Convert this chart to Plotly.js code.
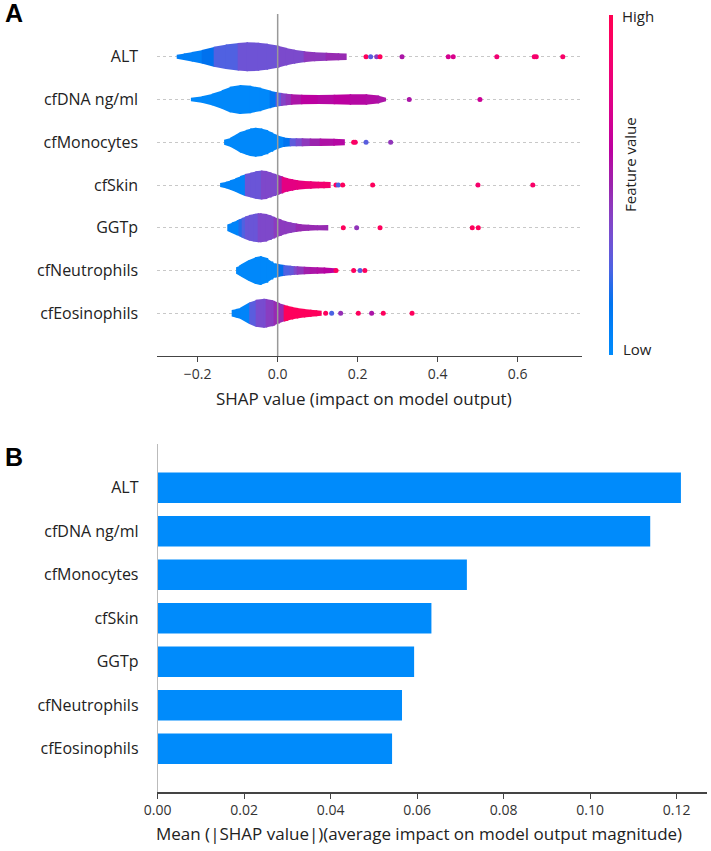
<!DOCTYPE html>
<html><head><meta charset="utf-8">
<script src="https://cdn.plot.ly/plotly-3.0.1.min.js"></script>
<style>html,body{margin:0;padding:0;background:#fff}#chart{width:711px;height:851px}</style>
</head><body><div id="chart"></div>
<script>
// ---------- DATA ----------
const features = ['ALT','cfDNA ng/ml','cfMonocytes','cfSkin','GGTp','cfNeutrophils','cfEosinophils'];
const meanAbsShap = [0.1210, 0.1139, 0.0715, 0.0633, 0.0593, 0.0565, 0.0542];

// violin profiles: SHAP positions, relative half-width, mean feature value per segment
const altX = [-0.2525,-0.235,-0.215,-0.19,-0.16,-0.13,-0.10,-0.078,-0.05,-0.028,0.0,0.02,0.04,0.065,0.09,0.12,0.15,0.1725];
const altW = [0.13,0.22,0.33,0.46,0.68,0.85,0.95,1.0,0.97,0.89,0.76,0.6,0.49,0.37,0.31,0.27,0.24,0.22];
const altC = [0.08,0.08,0.08,0.17,0.26,0.26,0.33,0.33,0.33,0.33,0.37,0.37,0.37,0.44,0.44,0.48,0.48];

const dnaX = [-0.217,-0.19,-0.165,-0.14,-0.12,-0.095,-0.07,-0.045,-0.02,-0.005,0.008,0.02,0.033,0.058,0.1,0.14,0.18,0.22,0.25,0.271];
const dnaW = [0.12,0.22,0.4,0.64,0.87,1.0,0.95,0.8,0.6,0.5,0.44,0.4,0.36,0.32,0.31,0.33,0.36,0.36,0.27,0.12];
const dnaC = [0.02,0.02,0.02,0.02,0.02,0.02,0.02,0.02,0.15,0.28,0.4,0.45,0.55,0.6,0.58,0.6,0.58,0.57,0.55];

const monoX = [-0.134,-0.119,-0.105,-0.094,-0.08,-0.069,-0.057,-0.042,-0.0275,-0.015,-0.0025,0.014,0.03,0.045,0.06,0.08,0.105,0.139,0.168];
const monoW = [0.17,0.31,0.52,0.71,0.85,0.95,1.0,0.95,0.82,0.66,0.49,0.33,0.28,0.27,0.27,0.26,0.25,0.24,0.21];
const monoC = [0.02,0.02,0.02,0.02,0.02,0.02,0.02,0.02,0.02,0.02,0.05,0.15,0.29,0.36,0.44,0.5,0.56,0.58];

const skinX = [-0.144,-0.13,-0.119,-0.106,-0.094,-0.082,-0.069,-0.056,-0.042,-0.03,-0.019,-0.008,0.0,0.01,0.0225,0.035,0.0475,0.065,0.081,0.1,0.114,0.1325];
const skinW = [0.13,0.22,0.33,0.47,0.62,0.75,0.85,0.94,1.0,0.96,0.86,0.76,0.69,0.58,0.47,0.39,0.33,0.28,0.25,0.23,0.22,0.2];
const skinC = [0.05,0.05,0.05,0.05,0.05,0.32,0.32,0.32,0.38,0.38,0.38,0.38,0.5,0.77,0.77,0.77,0.79,0.81,0.83,0.85,0.87];

const ggtX = [-0.126,-0.115,-0.1025,-0.098,-0.09,-0.082,-0.072,-0.061,-0.05,-0.044,-0.03,-0.019,-0.01,0.006,0.018,0.031,0.045,0.056,0.075,0.0975,0.1265];
const ggtW = [0.22,0.36,0.51,0.56,0.67,0.78,0.88,0.95,0.99,1.0,0.95,0.84,0.74,0.56,0.45,0.36,0.29,0.24,0.2,0.18,0.19];
const ggtC = [0.05,0.05,0.05,0.2,0.26,0.32,0.32,0.32,0.38,0.38,0.38,0.38,0.43,0.43,0.43,0.43,0.48,0.48,0.48,0.48];

const neuX = [-0.104,-0.097,-0.09,-0.0733,-0.057,-0.044,-0.0275,-0.015,-0.007,0.0,0.014,0.03,0.04,0.0475,0.065,0.08,0.0975,0.115,0.131,0.1458];
const neuW = [0.22,0.32,0.44,0.71,0.92,1.0,0.84,0.62,0.49,0.44,0.38,0.32,0.3,0.29,0.26,0.24,0.22,0.2,0.18,0.15];
const neuC = [0.02,0.02,0.02,0.02,0.02,0.02,0.02,0.02,0.02,0.18,0.26,0.3,0.38,0.44,0.52,0.55,0.57,0.59,0.6];

const eosX = [-0.115,-0.105,-0.094,-0.071,-0.055,-0.036,-0.03,-0.015,-0.01,0.0017,0.015,0.0225,0.035,0.0475,0.065,0.081,0.095,0.11];
const eosW = [0.22,0.3,0.38,0.74,0.93,1.0,0.98,0.89,0.84,0.71,0.56,0.51,0.43,0.36,0.29,0.24,0.21,0.18];
const eosC = [0.05,0.05,0.05,0.28,0.36,0.36,0.42,0.42,0.48,0.48,0.95,0.95,0.95,0.95,0.95,0.95,0.95];

// outlier points: SHAP value and feature value
const altDotX = [0.221,0.2325,0.2475,0.256,0.311,0.4266,0.439,0.548,0.6416,0.6466,0.713];
const altDotC = [0.95,0.28,0.42,0.95,0.55,0.7,0.72,0.85,0.88,0.88,0.9];
const dnaDotX = [0.329,0.5058];
const dnaDotC = [0.55,0.66];
const monoDotX = [0.19,0.194,0.221,0.2825];
const monoDotC = [0.95,0.9,0.28,0.45];
const skinDotX = [0.1458,0.1517,0.1625,0.2375,0.5008,0.638];
const skinDotC = [0.95,0.25,0.95,0.95,0.88,0.9];
const ggtDotX = [0.164,0.1975,0.256,0.4866,0.5016];
const ggtDotC = [0.95,0.45,0.95,0.95,0.95];
const neuDotX = [0.146,0.19,0.206,0.218];
const neuDotC = [0.95,0.95,0.27,0.95];
const eosDotX = [0.12,0.135,0.1575,0.2016,0.235,0.264,0.336];
const eosDotC = [0.95,0.25,0.47,0.95,0.55,0.95,0.95];

const xTicksTop = [-0.2,0.0,0.2,0.4,0.6];
const xTicksBottom = [0,0.02,0.04,0.06,0.08,0.10,0.12];

// ---------- SHAP red_blue colormap ----------
function lab2rgb(L,a,b){
  const fy=(L+16)/116, fx=fy+a/500, fz=fy-b/200;
  const finv=t=>t>0.206893?t*t*t:(t-16/116)/7.787;
  const X=0.95047*finv(fx), Y=finv(fy), Z=1.08883*finv(fz);
  let r=3.24048134*X-1.53715152*Y-0.49853633*Z;
  let g=-0.96925495*X+1.87599*Y+0.04155593*Z;
  let bb=0.05564664*X-0.20404134*Y+1.05731107*Z;
  const gam=c=>c>0.0031308?1.055*Math.pow(c,1/2.4)-0.055:12.92*c;
  return [r,g,bb].map(c=>Math.min(1,Math.max(0,gam(Math.max(0,c)))));
}
const N=100, cmap=[];
for(let i=0;i<N;i++){
  const t=i/(N-1);
  const l = i<N/2 ? 54+(40-54)*(i/(N/2-1)) : 40+(54-40)*((i-N/2)/(N/2-1));
  const c = 70+(90-70)*t;
  const h = 4.6588+((0.35470565+2*Math.PI)-4.6588)*t;
  cmap.push(lab2rgb(l,c*Math.cos(h),c*Math.sin(h)));
}
function shapColor(v){
  const p=Math.min(1,Math.max(0,v))*(N-1), i=Math.floor(p), f=p-i;
  const a=cmap[i], b=cmap[Math.min(N-1,i+1)];
  const rgb=a.map((x,k)=>Math.round(255*(x+(b[k]-x)*f)));
  return 'rgb('+rgb.join(',')+')';
}
const colorscale=[];
for(let i=0;i<=20;i++){colorscale.push([i/20,shapColor(i/20)]);}

// ---------- TRACES ----------
const profiles=[[altX,altW,altC],[dnaX,dnaW,dnaC],[monoX,monoW,monoC],[skinX,skinW,skinC],[ggtX,ggtW,ggtC],[neuX,neuW,neuC],[eosX,eosW,eosC]];
const dots=[[altDotX,altDotC],[dnaDotX,dnaDotC],[monoDotX,monoDotC],[skinDotX,skinDotC],[ggtDotX,ggtDotC],[neuDotX,neuDotC],[eosDotX,eosDotC]];
const H=0.34, OV=0.004;
const traces=[];
profiles.forEach((p,fi)=>{
  const row=features.length-1-fi;
  const [xs,ws,cs]=p;
  for(let i=0;i<xs.length-1;i++){
    const col=shapColor(cs[i]);
    const last = i===xs.length-2;
    const xr = last ? xs[i+1] : xs[i+1]+OV;
    traces.push({type:'scatter',mode:'lines',xaxis:'x',yaxis:'y',
      x:[xs[i],xs[i+1],xr,xr,xs[i+1],xs[i],xs[i]],
      y:[row+ws[i]*H,row+ws[i+1]*H,row+ws[i+1]*H,row-ws[i+1]*H,row-ws[i+1]*H,row-ws[i]*H,row+ws[i]*H],
      fill:'toself',fillcolor:col,line:{color:col,width:0},hoverinfo:'skip',showlegend:false});
  }
});
const dx=[],dy=[],dc=[];
dots.forEach((d,fi)=>{const row=features.length-1-fi; d[0].forEach((v,k)=>{dx.push(v);dy.push(row);dc.push(d[1][k]);});});
traces.push({type:'scatter',mode:'markers',xaxis:'x',yaxis:'y',x:dx,y:dy,
  marker:{size:5,color:dc,colorscale:colorscale,cmin:0,cmax:1,showscale:true,line:{width:0},
    colorbar:{thickness:4,thicknessmode:'pixels',len:340/851,lenmode:'fraction',
      x:609/711,xanchor:'left',xpad:0,y:1-14.7/851,yanchor:'top',ypad:0,
      outlinewidth:0,showticklabels:false,ticks:''}},
  showlegend:false,hoverinfo:'skip'});
traces.push({type:'bar',orientation:'h',xaxis:'x2',yaxis:'y2',
  x:meanAbsShap,y:features.map((f,i)=>features.length-1-i),width:0.7,
  marker:{color:'#008bfb',line:{width:0}},showlegend:false});

const font='"Open Sans", sans-serif';
const rows=features.map((f,i)=>features.length-1-i);
const layout={
  width:711,height:851,margin:{l:0,r:0,t:0,b:0},paper_bgcolor:'#fff',plot_bgcolor:'#fff',
  font:{family:font,color:'#333'},showlegend:false,
  xaxis:{domain:[157.3/711,582/711],range:[-0.301,0.761],anchor:'y',showline:true,linecolor:'#444',linewidth:1.2,
    ticks:'outside',ticklen:5,tickcolor:'#444',tickvals:xTicksTop,tickformat:'.1f',showgrid:false,zeroline:false,
    tickfont:{size:14,color:'#333'}},
  yaxis:{domain:[1-356/851,1-14/851],range:[-1,7],anchor:'x',tickvals:rows,ticktext:features,showgrid:true,griddash:'dot',
    gridcolor:'#c8c8c8',gridwidth:1,showline:false,zeroline:false,ticks:'outside',ticklen:15,tickcolor:'rgba(0,0,0,0)',
    tickfont:{size:16,color:'#222'}},
  xaxis2:{domain:[157.7/711,707.3/711],range:[0,0.1271],anchor:'y2',showline:true,linecolor:'#444',linewidth:1.2,
    ticks:'outside',ticklen:5,tickcolor:'#444',tickvals:xTicksBottom,tickformat:'.2f',showgrid:false,zeroline:false,
    tickfont:{size:14,color:'#333'}},
  yaxis2:{domain:[1-792.3/851,1-444.3/851],range:[-1,7],anchor:'x2',tickvals:rows,ticktext:features,showgrid:false,
    showline:true,linecolor:'#bbb',linewidth:1,zeroline:false,ticks:'outside',ticklen:15,tickcolor:'rgba(0,0,0,0)',
    tickfont:{size:16,color:'#222'}},
  shapes:[{type:'line',xref:'x',yref:'y domain',x0:0,x1:0,y0:0,y1:1,line:{color:'#999',width:1.5},layer:'above'}],
  annotations:[
    {text:'SHAP value (impact on model output)',xref:'paper',yref:'paper',x:364.5/711,y:1-398/851,xanchor:'center',yanchor:'middle',showarrow:false,font:{size:17,color:'#222'}},
    {text:'Mean (|SHAP value|)(average impact on model output magnitude)',xref:'paper',yref:'paper',x:418.5/711,y:1-833/851,xanchor:'center',yanchor:'middle',showarrow:false,font:{size:17,color:'#222'}},
    {text:'<b>A</b>',xref:'paper',yref:'paper',x:3/711,y:1-12.5/851,xanchor:'left',yanchor:'middle',showarrow:false,font:{family:'"Liberation Sans", Arial, sans-serif',size:25,color:'#000'}},
    {text:'<b>B</b>',xref:'paper',yref:'paper',x:3/711,y:1-457/851,xanchor:'left',yanchor:'middle',showarrow:false,font:{family:'"Liberation Sans", Arial, sans-serif',size:25,color:'#000'}},
    {text:'High',xref:'paper',yref:'paper',x:620/711,y:1-15.7/851,xanchor:'left',yanchor:'middle',showarrow:false,font:{size:15,color:'#222'}},
    {text:'Low',xref:'paper',yref:'paper',x:621/711,y:1-349.3/851,xanchor:'left',yanchor:'middle',showarrow:false,font:{size:15,color:'#222'}},
    {text:'Feature value',xref:'paper',yref:'paper',x:630/711,y:1-165/851,xanchor:'center',yanchor:'middle',textangle:-90,showarrow:false,font:{size:15,color:'#222'}}
  ]
};
Plotly.newPlot('chart',traces,layout,{displayModeBar:false,staticPlot:true});
</script></body></html>
